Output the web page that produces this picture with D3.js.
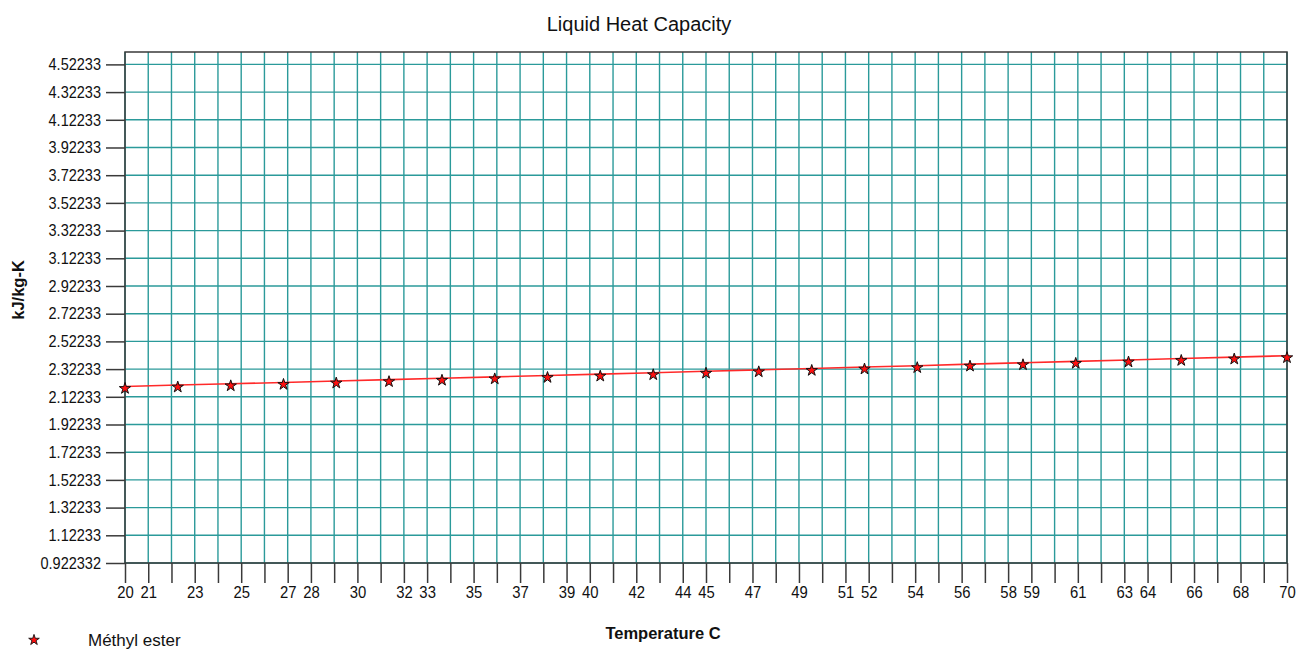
<!DOCTYPE html>
<html>
<head>
<meta charset="utf-8">
<script src="https://cdn.jsdelivr.net/npm/d3@7"></script>
<style>
  body { margin: 0; background: #fff; }
  text { font-family: "Liberation Sans", Arial, sans-serif; fill: #111; }
</style>
</head>
<body>
<div id="chart"></div>
<script>
// Data
const temps = [20, 22.27, 24.55, 26.82, 29.09, 31.36, 33.64, 35.91, 38.18, 40.45, 42.73, 45,
               47.27, 49.55, 51.82, 54.09, 56.36, 58.64, 60.91, 63.18, 65.45, 67.73, 70];
const heatCap = [2.197, 2.207, 2.216, 2.226, 2.236, 2.246, 2.256, 2.266, 2.276, 2.286, 2.296, 2.307,
                 2.317, 2.327, 2.337, 2.347, 2.358, 2.368, 2.378, 2.388, 2.399, 2.409, 2.419];
const yTickValues = [0.922332, 1.12233, 1.32233, 1.52233, 1.72233, 1.92233, 2.12233, 2.32233, 2.52233,
                     2.72233, 2.92233, 3.12233, 3.32233, 3.52233, 3.72233, 3.92233, 4.12233, 4.32233, 4.52233];
const yTickLabels = ["0.922332", "1.12233", "1.32233", "1.52233", "1.72233", "1.92233", "2.12233", "2.32233", "2.52233",
                     "2.72233", "2.92233", "3.12233", "3.32233", "3.52233", "3.72233", "3.92233", "4.12233", "4.32233", "4.52233"];
const xLabelled = [20, 21, 23, 25, 27, 28, 30, 32, 33, 35, 37, 39, 40, 42, 44, 45, 47, 49,
                   51, 52, 54, 56, 58, 59, 61, 63, 64, 66, 68, 70];
const seriesName = "Méthyl ester";

// Dimensions
const width = 1308, height = 655;
const margin = {left: 125, right: 21, top: 52, bottom: 92};
const plotW = width - margin.left - margin.right;
const plotH = height - margin.top - margin.bottom;

const svg = d3.select("#chart")
    .append("svg")
    .attr("width", width)
    .attr("height", height);

const xScale = d3.scaleLinear()
    .domain([20, 70])
    .range([margin.left, margin.left + plotW]);

const yScale = d3.scaleLinear()
    .domain([0.922332, 4.6118])
    .range([margin.top + plotH, margin.top]);

const gridColor = "#2b9a9a";
const frameColor = "#3a3a3a";

// Grid lines
const xInts = d3.range(20, 71);
svg.append("g")
    .selectAll("line")
    .data(xInts)
    .join("line")
    .attr("x1", d => xScale(d)).attr("x2", d => xScale(d))
    .attr("y1", margin.top).attr("y2", margin.top + plotH)
    .attr("stroke", gridColor)
    .attr("stroke-width", 1.4);

svg.append("g")
    .selectAll("line")
    .data(yTickValues)
    .join("line")
    .attr("x1", margin.left).attr("x2", margin.left + plotW)
    .attr("y1", d => yScale(d)).attr("y2", d => yScale(d))
    .attr("stroke", gridColor)
    .attr("stroke-width", 1.4);

// Frame
svg.append("rect")
    .attr("x", margin.left)
    .attr("y", margin.top)
    .attr("width", plotW)
    .attr("height", plotH)
    .attr("fill", "none")
    .attr("stroke", frameColor)
    .attr("stroke-width", 1.5);

// Y axis (labels slightly condensed like the original)
const yAxis = svg.append("g")
    .attr("transform", `translate(${margin.left},0)`)
    .call(d3.axisLeft(yScale)
        .tickValues(yTickValues)
        .tickSize(19)
        .tickPadding(4)
        .tickFormat((d, i) => yTickLabels[i]));
yAxis.select(".domain").remove();
yAxis.selectAll(".tick line").attr("stroke", frameColor).attr("stroke-width", 1.5);
yAxis.selectAll("text")
    .attr("x", -24 / 0.88)
    .attr("transform", "scale(0.88,1)")
    .style("font-family", "'Liberation Sans', Arial, sans-serif")
    .style("font-size", "16.5px")
    .attr("fill", "#111");

// X axis
const xAxis = svg.append("g")
    .attr("transform", `translate(0,${margin.top + plotH})`)
    .call(d3.axisBottom(xScale)
        .tickValues(xInts)
        .tickSize(20)
        .tickPadding(3)
        .tickFormat(d => xLabelled.includes(d) ? d : ""));
xAxis.select(".domain").remove();
xAxis.selectAll(".tick line").attr("stroke", frameColor).attr("stroke-width", 1.5);
xAxis.selectAll("text")
    .attr("transform", "scale(0.9,1)")
    .style("font-family", "'Liberation Sans', Arial, sans-serif")
    .style("font-size", "16.5px")
    .attr("fill", "#111");

// Title and axis labels
svg.append("text")
    .attr("x", 639)
    .attr("y", 31)
    .attr("text-anchor", "middle")
    .style("font-size", "20px")
    .text("Liquid Heat Capacity");

svg.append("text")
    .attr("x", 663)
    .attr("y", 639)
    .attr("text-anchor", "middle")
    .style("font-size", "16.5px")
    .style("font-weight", "bold")
    .text("Temperature C");

svg.append("text")
    .attr("transform", "translate(24,290) rotate(-90)")
    .attr("text-anchor", "middle")
    .style("font-size", "16.5px")
    .style("font-weight", "bold")
    .text("kJ/kg-K");

// Series line
const points = temps.map((t, i) => ({t: t, v: heatCap[i]}));
const line = d3.line()
    .x(d => xScale(d.t))
    .y(d => yScale(d.v));

svg.append("path")
    .datum(points)
    .attr("d", line)
    .attr("fill", "none")
    .attr("stroke", "#ff2a2a")
    .attr("stroke-width", 1.6);

// Markers
const star = d3.symbol().type(d3.symbolStar).size(40);
svg.append("g")
    .selectAll("path")
    .data(points)
    .join("path")
    .attr("d", star)
    .attr("transform", d => `translate(${xScale(d.t)},${yScale(d.v) + 2})`)
    .attr("fill", "#ff1010")
    .attr("stroke", "#111")
    .attr("stroke-width", 1);

// Legend
svg.append("path")
    .attr("d", d3.symbol().type(d3.symbolStar).size(35)())
    .attr("transform", "translate(34,640)")
    .attr("fill", "#ff1010")
    .attr("stroke", "#111")
    .attr("stroke-width", 0.9);

svg.append("text")
    .attr("x", 88)
    .attr("y", 646)
    .style("font-size", "17px")
    .text(seriesName);
</script>
</body>
</html>
